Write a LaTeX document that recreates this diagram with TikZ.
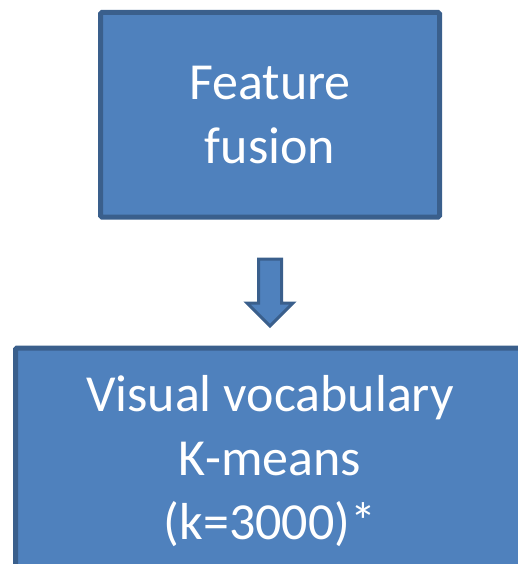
\documentclass[tikz,border=0pt]{standalone}
\usepackage{fontspec}
\setmainfont{Carlito}
\usetikzlibrary{positioning}
\definecolor{boxfill}{HTML}{4F81BD}
\definecolor{boxline}{HTML}{3A5F8C}
\tikzset{>=latex}

\begin{document}
\begin{tikzpicture}[x=1pt,y=-1pt,
  stage/.style={draw=boxline,line width=5pt,fill=boxfill,text=white,align=center,
    font=\fontsize{52}{64}\selectfont,inner sep=0pt,rounded corners=1.5pt},
  blockarrow/.style={draw=boxline,line width=3pt,fill=boxfill,line join=miter}]
\useasboundingbox (0,0) rectangle (518,564);
\clip (0,0) rectangle (518,564);
\node[stage,minimum width=339pt,minimum height=204.5pt] (fusion) at (270,114.75) {Feature\\fusion};
\node[stage,minimum width=509pt,minimum height=226pt] (vocab) at (270,461) {Visual vocabulary\\K-means\\(k=3000)*};
% block arrow between the two stages
\draw[blockarrow] (258.5,259) -- (281.5,259) -- (281.5,303) -- (293,303) -- (270,326) -- (247,303) -- (258.5,303) -- cycle;
\end{tikzpicture}
\end{document}
